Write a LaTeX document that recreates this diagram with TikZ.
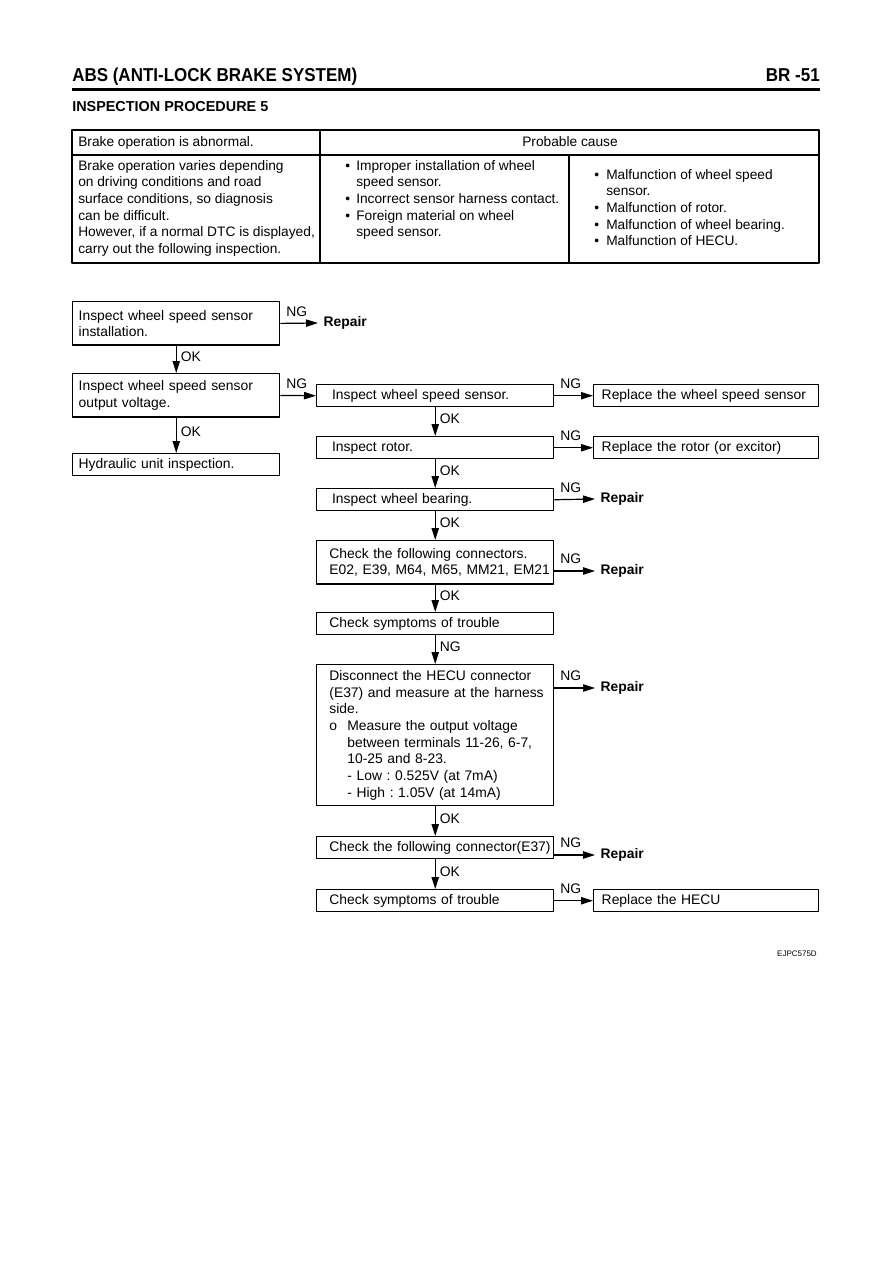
\documentclass[tikz,border=0pt]{standalone}
\usepackage{fontspec}
\usepackage{graphicx}
\setmainfont{Liberation Sans}
\usetikzlibrary{arrows.meta}
\frenchspacing
\newcommand\flowfont{\fontsize{10.4}{12.5}\selectfont}
\newcommand\cellfont{\fontsize{10.3}{12.5}\selectfont}
\newcommand\headfont{\fontsize{14}{16}\selectfont\bfseries}

\begin{document}
\begin{tikzpicture}[x=0.75pt,y=-0.75pt,line join=round,>={Triangle[length=9pt,width=5.5pt]}]
\tikzset{every node/.style={font=\flowfont},
  box/.style={draw,line width=1.1pt,anchor=north west,align=left,inner xsep=0pt,inner ysep=0pt,
    execute at begin node={\leftskip=#1\rightskip=0pt plus 1fil minus 20pt\relax}},
  lbox/.style={box=4.5pt,text width=155.25pt},
  mbox/.style={box=9.5pt,text width=177.75pt},
  rbox/.style={box=6pt,text width=168.75pt},
  one/.style={minimum height=16.5pt},
  two/.style={minimum height=32.5pt},
  go/.style={->,line width=0.9pt},
  ng/.style={anchor=south west,inner sep=1.5pt,xshift=2.5pt,yshift=3.5pt},
  ok/.style={anchor=west,inner sep=1.5pt,xshift=1.5pt,pos=0.4},
  repair/.style={anchor=west,inner xsep=4pt,font=\flowfont\bfseries},
  cell/.style={anchor=north west,align=left,inner sep=0pt,font=\cellfont}}
\path[fill=white] (0,0) rectangle (893,1263);

% heading
\node[anchor=base west,inner sep=0pt,font=\headfont] (title) at (72,82) {\scalebox{0.91}[1]{ABS (ANTI-LOCK BRAKE SYSTEM)}};
\node[anchor=base east,inner sep=0pt,font=\headfont] (page) at (820,82) {\scalebox{0.91}[1]{BR -51}};
\draw[line width=2.6pt] (72,89.5) -- (820,89.5);
\node[anchor=base west,inner sep=0pt,font=\fontsize{10.8}{13}\selectfont\bfseries] (proc) at (72,112) {INSPECTION PROCEDURE 5};

% table
\draw[line width=0.8pt] (72,130) rectangle (819,263);
\draw[line width=0.8pt] (72,155) -- (819,155) (320,130) -- (320,263) (569,155) -- (569,263);
\node[anchor=base west,inner sep=0pt,font=\cellfont] (sym) at (78,146) {Brake operation is abnormal.};
\node[anchor=base,inner sep=0pt,font=\cellfont] (cause) at (570,146) {Probable cause};
\node[cell] (desc) at (78,160) {Brake operation varies depending\\on driving conditions and road\\surface conditions, so diagnosis\\can be difficult.\\However, if a normal DTC is displayed,\\carry out the following inspection.};
\node[cell] (faults) at (345,160) {\makebox[8.25pt][l]{\textbullet}Improper installation of wheel\\\hspace*{8.25pt}speed sensor.\\\makebox[8.25pt][l]{\textbullet}Incorrect sensor harness contact.\\\makebox[8.25pt][l]{\textbullet}Foreign material on wheel\\\hspace*{8.25pt}speed sensor.};
\node[cell] (parts) at (594,169) {\makebox[9pt][l]{\textbullet}Malfunction of wheel speed\\\hspace*{9pt}sensor.\\\makebox[9pt][l]{\textbullet}Malfunction of rotor.\\\makebox[9pt][l]{\textbullet}Malfunction of wheel bearing.\\\makebox[9pt][l]{\textbullet}Malfunction of HECU.};

% flow
\node[lbox,two] (insp) at (72,301) {Inspect wheel speed sensor\\installation.};
\node[repair] (rep1) at (318,323) {Repair};
\node[lbox,two] (volt) at (72,373) {Inspect wheel speed sensor\\output voltage.};
\node[lbox,one] (hyd) at (72,453) {Hydraulic unit inspection.};
\node[mbox,one] (sens) at (316,384) {\hspace*{2pt}Inspect wheel speed sensor.};
\node[rbox,one] (rsens) at (593,384) {Replace the wheel speed sensor};
\node[mbox,one] (rotor) at (316,436) {\hspace*{2pt}Inspect rotor.};
\node[rbox,one] (rrotor) at (593,436) {Replace the rotor (or excitor)};
\node[mbox,one] (bear) at (316,488) {\hspace*{2pt}Inspect wheel bearing.};
\node[repair] (rep2) at (595,499) {Repair};
\node[mbox,two] (conn) at (316,540) {Check the following connectors.\\E02, E39, M64, M65, MM21, EM21};
\node[repair] (rep3) at (595,571) {Repair};
\node[mbox,one] (symp) at (316,612) {Check symptoms of trouble};
\node[mbox,minimum height=105.75pt] (hecu) at (316,664) {Disconnect the HECU connector\\(E37) and measure at the harness\\side.\\\makebox[13.5pt][l]{o}Measure the output voltage\\\hspace*{13.5pt}between terminals 11-26, 6-7,\\\hspace*{13.5pt}10-25 and 8-23.\\\hspace*{13.5pt}- Low : 0.525V (at 7mA)\\\hspace*{13.5pt}- High : 1.05V (at 14mA)};
\node[repair] (rep4) at (595,688) {Repair};
\node[mbox,one] (e37) at (316,836) {Check the following connector(E37)};
\node[repair] (rep5) at (595,855) {Repair};
\node[mbox,one] (symp2) at (316,889) {Check symptoms of trouble};
\node[rbox,one] (rhecu) at (593,889) {Replace the HECU};

\draw[go] (insp.east) -- (rep1.west) node[ng,pos=0] {NG};
\draw[go] (insp.south) -- (volt.north) node[ok] {OK};
\draw[go] (volt.east) -- (sens.west) node[ng,pos=0] {NG};
\draw[go] (volt.south) -- (hyd.north) node[ok] {OK};
\draw[go] (sens.east) -- (rsens.west) node[ng,pos=0] {NG};
\draw[go] (sens.south) -- (rotor.north) node[ok] {OK};
\draw[go] (rotor.east) -- (rrotor.west) node[ng,pos=0] {NG};
\draw[go] (rotor.south) -- (bear.north) node[ok] {OK};
\draw[go] (bear.east) -- (rep2.west) node[ng,pos=0] {NG};
\draw[go] (bear.south) -- (conn.north) node[ok] {OK};
\draw[go] (conn.east |- rep3.west) -- (rep3.west) node[ng,pos=0] {NG};
\draw[go] (conn.south) -- (symp.north) node[ok] {OK};
\draw[go] (symp.south) -- (hecu.north) node[ok] {NG};
\draw[go] (hecu.east |- rep4.west) -- (rep4.west) node[ng,pos=0] {NG};
\draw[go] (hecu.south) -- (e37.north) node[ok] {OK};
\draw[go] (e37.east |- rep5.west) -- (rep5.west) node[ng,pos=0] {NG};
\draw[go] (e37.south) -- (symp2.north) node[ok] {OK};
\draw[go] (symp2.east) -- (rhecu.west) node[ng,pos=0] {NG};

\node[anchor=base east,inner sep=0pt,font=\fontsize{6}{7}\selectfont] (code) at (817,956) {EJPC575D};
\end{tikzpicture}
\end{document}
